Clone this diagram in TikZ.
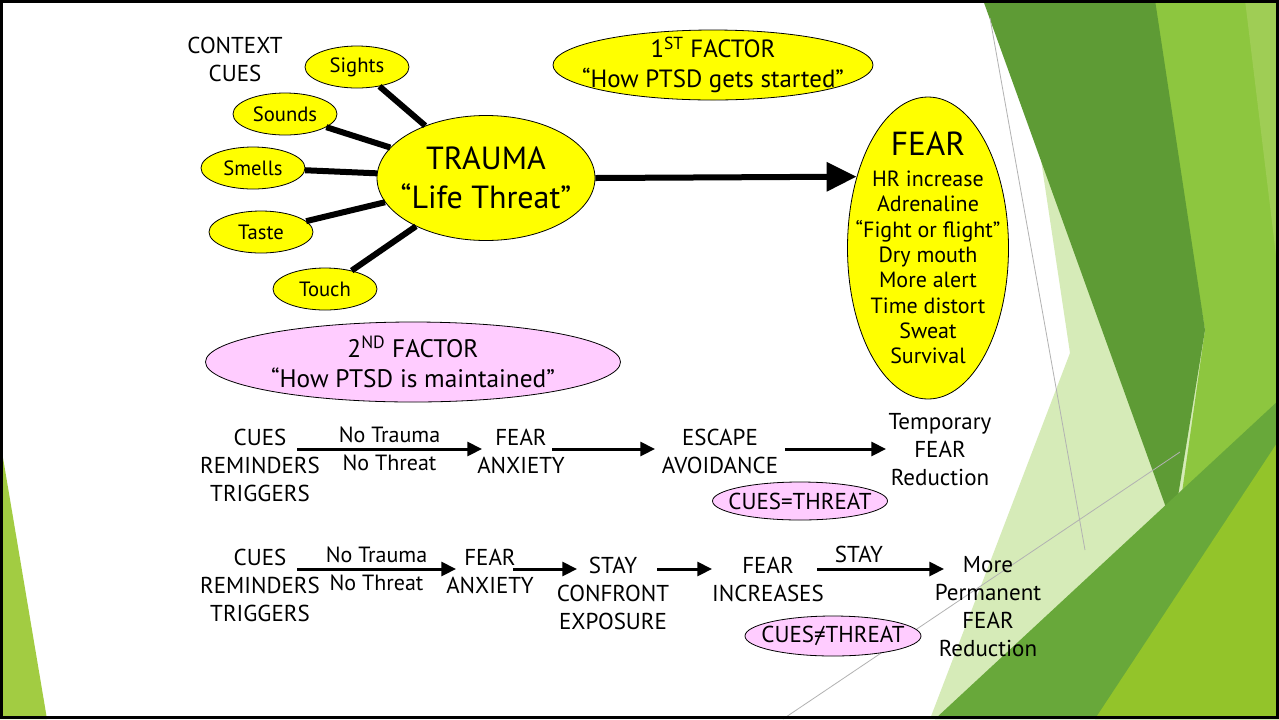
\documentclass[tikz,border=0pt]{standalone}
\usepackage{fontspec}
\setmainfont{PT Sans}
\usetikzlibrary{shapes.geometric,arrows.meta,calc}
\definecolor{yel}{HTML}{FFFF00}
\definecolor{pnk}{HTML}{FFCCFF}
\definecolor{limeg}{HTML}{A2CC42}
\definecolor{darkg}{HTML}{5E9B35}
\definecolor{lightg}{HTML}{8DC63F}
\definecolor{paleg}{HTML}{D6EBB8}
\definecolor{medg}{HTML}{68A83A}
\definecolor{brightg}{HTML}{93C42A}
\definecolor{stripg}{HTML}{9FCD55}
\newcommand\myneq{\ooalign{=\cr\hidewidth/\hidewidth\cr}}
\tikzset{
  oval/.style={ellipse, draw=black, line width=0.6pt, inner sep=-20pt, align=center},
  cueoval/.style={oval, fill=yel, minimum width=78pt, minimum height=31.5pt,
    font=\fontsize{15.5pt}{18pt}\selectfont},
  body/.style={inner sep=0pt, align=center, font=\fontsize{17.25pt}{21pt}\selectfont},
  small/.style={font=\fontsize{16.5pt}{19pt}\selectfont},
  spoke/.style={line width=4.5pt},
  bigarrow/.style={line width=4.5pt, -{Triangle[length=22.5pt,width=21pt]}},
  rowarrow/.style={line width=2.25pt, -{Triangle[length=11pt,width=10.5pt]}},
  greyline/.style={draw=black!30, line width=0.6pt}
}
\begin{document}
\begin{tikzpicture}[x=0.75pt,y=-0.75pt]
\useasboundingbox (0,0) rectangle (1279,719);
\fill[white] (0,0) rectangle (1279,719);
% background decoration
\fill[limeg] (0,440) -- (0,719) -- (47,719) -- cycle;
\fill[paleg] (1041,160) -- (1070,353) -- (930,719) -- (1279,719) -- (1279,160) -- cycle;
\fill[lightg] (1150,0) -- (1279,0) -- (1279,719) -- (1150,719) -- (1205,330) -- cycle;
\fill[stripg] (1245,0) -- (1279,0) -- (1279,280) -- cycle;
\fill[darkg] (983,0) -- (1155,0) -- (1205,330) -- (1173,527) -- cycle;
\fill[medg] (935,719) -- (1279,400) -- (1279,719) -- cycle;
\fill[brightg] (1095,719) -- (1279,440) -- (1279,719) -- cycle;
\draw[greyline] (990,18) -- (1085,550);
\draw[greyline] (783,719) -- (1180,452);

% top: first factor
\node[body] (context) at (235,59) {CONTEXT\\CUES};
\node[cueoval] (sights) at (357,67) {Sights};
\node[cueoval] (sounds) at (285,114) {Sounds};
\node[cueoval] (smells) at (253,168) {Smells};
\node[cueoval] (taste) at (261,232) {Taste};
\node[cueoval] (touch) at (325,289) {Touch};
\node[oval, fill=yel, minimum width=163.5pt, minimum height=93.75pt,
  font=\fontsize{24pt}{29pt}\selectfont] (trauma) at (486,178) {TRAUMA\\“Life Threat”};
\foreach \c in {sights,sounds,smells,taste,touch}
  \draw[spoke] (\c) -- (trauma);
\node[oval, fill=yel, minimum width=240pt, minimum height=52.5pt,
  font=\fontsize{18.7pt}{22.5pt}\selectfont] (f1) at (713,65)
  {1\textsuperscript{ST} FACTOR\\“How PTSD gets started”};
\node[oval, fill=yel, minimum width=120.75pt, minimum height=226.5pt,
  font=\fontsize{16.5pt}{19pt}\selectfont] (fear) at (928,248)
  {{\fontsize{25pt}{25pt}\selectfont FEAR}\\[4.25pt]HR increase\\Adrenaline\\“Fight or flight”\\Dry mouth\\More alert\\Time distort\\Sweat\\Survival};
\draw[bigarrow] (trauma.east) -- (fear.135);

% second factor
\node[oval, fill=pnk, minimum width=311.25pt, minimum height=60pt,
  font=\fontsize{19pt}{22.5pt}\selectfont] (f2) at (413,362)
  {2\textsuperscript{ND} FACTOR\\“How PTSD is maintained”};

% row 1
\node[body] (cuesA) at (260,465) {CUES\\REMINDERS\\TRIGGERS};
\node[body] (fearA) at (521,451) {FEAR\\ANXIETY};
\node[body] (escA) at (720,451) {ESCAPE\\AVOIDANCE};
\node[body] (tempA) at (940,450) {Temporary\\FEAR\\Reduction};
\node[oval, fill=pnk, minimum width=131.25pt, minimum height=28.5pt,
  font=\fontsize{17.25pt}{21pt}\selectfont] (ctA) at (800,501) {CUES=THREAT};
\draw[rowarrow] ($(cuesA.center)+(37,-16)$) -- ($(fearA.center)+(-39,-2)$)
  node[midway, above=0pt, small] (ntA) {No Trauma}
  node[midway, below=0pt, small] (nthA) {No Threat};
\draw[rowarrow] ($(fearA.center)+(31,-2)$) -- ($(escA.center)+(-65,-2)$);
\draw[rowarrow] ($(escA.center)+(65,-2)$) -- ($(tempA.center)+(-54,-1)$);

% row 2
\node[body] (cuesB) at (260,585) {CUES\\REMINDERS\\TRIGGERS};
\node[body] (fearB) at (490,571) {FEAR\\ANXIETY};
\node[body] (stayB) at (613,593) {STAY\\CONFRONT\\EXPOSURE};
\node[body] (incB) at (768,579) {FEAR\\INCREASES};
\node[body] (moreB) at (988,607) {More\\Permanent\\FEAR\\Reduction};
\node[oval, fill=pnk, minimum width=132pt, minimum height=30pt,
  font=\fontsize{17.25pt}{21pt}\selectfont] (ctB) at (833,636) {CUES\myneq THREAT};
\draw[rowarrow] ($(cuesB.center)+(37,-16)$) -- ($(fearB.center)+(-34,-2)$)
  node[midway, above=0pt, small] (ntB) {No Trauma}
  node[midway, below=0pt, small] (nthB) {No Threat};
\draw[rowarrow] ($(fearB.center)+(23,-2)$) -- ($(stayB.center)+(-36,-24)$);
\draw[rowarrow] ($(stayB.center)+(44,-24)$) -- ($(incB.center)+(-56,-10)$);
\draw[rowarrow] ($(incB.center)+(49,-10)$) -- ($(moreB.center)+(-44,-38)$)
  node[pos=0.33, above=0pt, font=\fontsize{17.25pt}{21pt}\selectfont] (stayL) {STAY};

% frame
\draw[line width=2.25pt] (1.5,1.5) rectangle (1277.5,717.5);
\end{tikzpicture}
\end{document}
